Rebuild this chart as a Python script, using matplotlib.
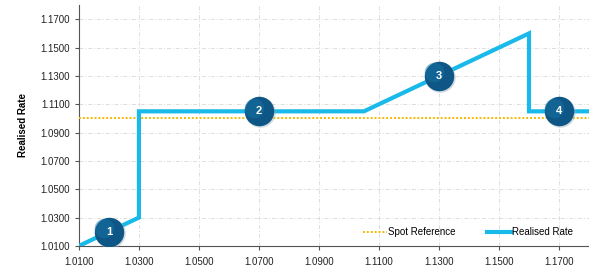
import matplotlib
matplotlib.use("Agg")
import matplotlib.pyplot as plt
from matplotlib.lines import Line2D

plt.rcParams['font.family'] = ['Liberation Sans', 'DejaVu Sans']

# Data
rate_x = [1.01, 1.03, 1.03, 1.105, 1.16, 1.16, 1.18]
rate_y = [1.01, 1.03, 1.105, 1.105, 1.16, 1.105, 1.105]
spot_x = [1.01, 1.18]
spot_y = [1.10, 1.10]
marker_x = [1.02, 1.07, 1.13, 1.17]
marker_y = [1.02, 1.105, 1.13, 1.105]
marker_labels = ["1", "2", "3", "4"]
ticks = [1.01, 1.03, 1.05, 1.07, 1.09, 1.11, 1.13, 1.15, 1.17]

fig = plt.figure(figsize=(5.89, 2.67), dpi=100)
ax = fig.add_axes([0.134, 0.079, 0.866, 0.902])

ax.plot(spot_x, spot_y, color='#f5b800', lw=1.4, ls=(0, (1, 1)), label='Spot Reference', zorder=3)
ax.plot(rate_x, rate_y, color='#19b9e9', lw=3.0, label='Realised Rate', zorder=4,
        solid_joinstyle='miter')

# shadow + markers
ax.scatter([x + 0.0004 for x in marker_x], [y - 0.0008 for y in marker_y], s=480,
           color='#9ab0bf', alpha=0.45, zorder=5, linewidths=0)
ax.scatter(marker_x, marker_y, s=450, color='#0d5685', zorder=6, linewidths=0)
ax.scatter([x - 0.0015 for x in marker_x], [y + 0.0025 for y in marker_y], s=200,
           color='#1a76a8', alpha=0.45, zorder=6, linewidths=0)
for x, y, t in zip(marker_x, marker_y, marker_labels):
    ax.text(x, y, t, color='white', ha='center', va='center', fontsize=8,
            fontweight='bold', zorder=7)

ax.set_xlim(1.01, 1.18)
ax.set_ylim(1.01, 1.18)
ax.set_xticks(ticks)
ax.set_yticks(ticks)
ax.set_xticklabels([f"{t:.4f}" for t in ticks])
ax.set_yticklabels([f"{t:.4f}" for t in ticks])
ax.tick_params(labelsize=7, colors='#222222', length=3, color='#555555', width=0.8)
ax.tick_params(axis='x', pad=5)
ax.grid(True, color='#dddddd', ls=(0, (4, 2, 1, 2)), lw=0.7)
ax.set_axisbelow(True)
for s in ['top', 'right']:
    ax.spines[s].set_visible(False)
for s in ['left', 'bottom']:
    ax.spines[s].set_color('#555555')
    ax.spines[s].set_linewidth(0.8)
ax.set_ylabel('Realised Rate', fontsize=7, fontweight='bold', labelpad=9)

handles = [Line2D([], [], color='#f5b800', lw=1.4, ls=(0, (1, 1))),
           Line2D([], [], color='#19b9e9', lw=3.0)]
ax.legend(handles, ['Spot Reference', 'Realised Rate'], loc='lower right',
          bbox_to_anchor=(0.985, 0.0), ncol=2, frameon=False, fontsize=7,
          handlelength=2.4, handletextpad=0.1, columnspacing=3.3)

fig.savefig('out.png', dpi=100)
